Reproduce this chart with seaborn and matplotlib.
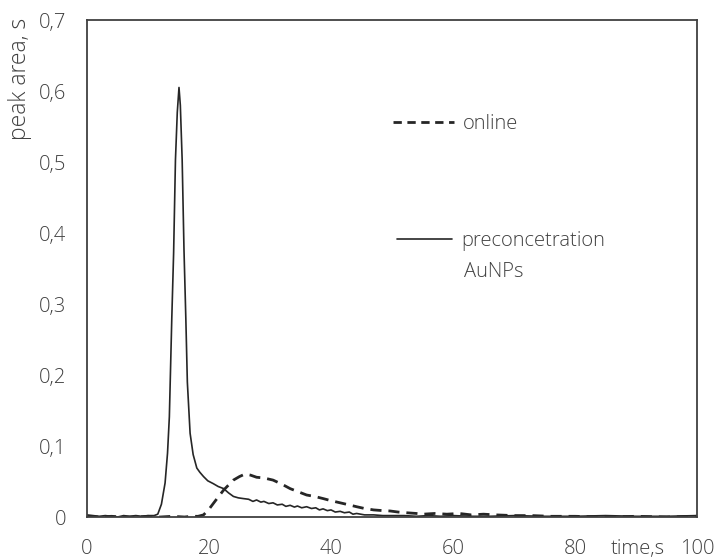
import numpy as np
import pandas as pd
import matplotlib
matplotlib.use("Agg")
import matplotlib.pyplot as plt
import seaborn as sns
from matplotlib.lines import Line2D

sns.set_theme(style="white")
plt.rcParams["font.family"] = ["Open Sans", "DejaVu Sans"]
plt.rcParams["font.weight"] = "light"

# preconcentration on AuNPs (solid)
t_pre = [0, 1, 2, 3, 4, 5, 6, 7, 8, 9, 10, 11, 11.6, 12.2, 12.8, 13.2, 13.5, 13.9,
         14.2, 14.5, 14.8, 15.08, 15.3, 15.6, 15.9, 16.2, 16.45, 16.9, 17.4, 18.0,
         18.5, 19.1, 19.8, 20.7, 21.5, 22.4, 23.2, 24.0, 24.8, 25.6, 26.5, 27.2,
         27.8, 28.5, 29, 29.8, 30.5, 31.2, 32, 32.6, 33.3, 34.0, 34.5, 35.2, 36.0,
         36.8, 37.5, 38.1, 38.7, 39.4, 40, 40.7, 41.5, 42.2, 43, 43.6, 44.2, 45.5,
         47, 48.5, 50, 52, 54, 56, 58, 60, 63, 66, 70, 75, 80, 85, 90, 95, 100]
y_pre = [0.003, 0.002, 0.001, 0.002, 0.001, 0.000, 0.002, 0.001, 0.002, 0.001,
         0.002, 0.002, 0.004, 0.018, 0.048, 0.090, 0.141, 0.280, 0.372, 0.503,
         0.570, 0.605, 0.580, 0.503, 0.376, 0.280, 0.190, 0.118, 0.088, 0.069,
         0.063, 0.057, 0.051, 0.047, 0.043, 0.040, 0.034, 0.029, 0.027, 0.026,
         0.025, 0.022, 0.024, 0.021, 0.022, 0.019, 0.020, 0.017, 0.018, 0.015,
         0.0165, 0.014, 0.0155, 0.013, 0.0145, 0.012, 0.013, 0.010, 0.0115, 0.009,
         0.010, 0.007, 0.008, 0.006, 0.007, 0.004, 0.005, 0.003, 0.003, 0.002,
         0.002, 0.002, 0.001, 0.002, 0.001, 0.002, 0.001, 0.001, 0.002, 0.001,
         0.001, 0.002, 0.001, 0.001, 0.002]

# online (dashed)
t_on = [0, 2, 4, 6, 8, 10, 12, 14, 16, 17, 18.2, 19.1, 20, 20.7, 21.5, 22.4, 23.2,
        24, 25, 25.9, 26.8, 27.8, 29, 30.5, 32, 33.3, 34.5, 36, 37.3, 38.7, 40,
        41.5, 43, 44.2, 45.5, 47, 48.5, 49.7, 51, 52.4, 54, 55.1, 57, 59, 61, 63,
        65, 67, 70, 73, 76, 80, 85, 90, 95, 100]
y_on = [0.001, 0, 0.001, 0, 0, 0.001, 0, 0.001, 0, 0.001, 0.001, 0.003, 0.011,
        0.019, 0.028, 0.038, 0.045, 0.052, 0.057, 0.0605, 0.059, 0.056, 0.055,
        0.052, 0.046, 0.040, 0.036, 0.031, 0.029, 0.026, 0.023, 0.020, 0.017,
        0.0145, 0.012, 0.010, 0.009, 0.0085, 0.007, 0.006, 0.005, 0.004, 0.005,
        0.004, 0.005, 0.003, 0.004, 0.003, 0.002, 0.002, 0.001, 0.001, 0, 0.001,
        0, 0.001]

x_ticks = [0, 20, 40, 60, 80, 100]
y_ticks = [0, 0.1, 0.2, 0.3, 0.4, 0.5, 0.6, 0.7]
y_ticklabels = ["0", "0,1", "0,2", "0,3", "0,4", "0,5", "0,6", "0,7"]

pre = pd.DataFrame({"t": t_pre, "y": y_pre})
onl = pd.DataFrame({"t": t_on, "y": y_on})

fig = plt.figure(figsize=(7.22, 5.59), dpi=100)
ax = fig.add_axes([0.1205, 0.0751, 0.8449, 0.8891])

ink = "#262626"
txt = "#404040"
fs = 14.5
sns.lineplot(data=pre, x="t", y="y", ax=ax, color=ink, lw=1.2, estimator=None)
sns.lineplot(data=onl, x="t", y="y", ax=ax, color=ink, lw=2.0, estimator=None)
ax.lines[-1].set_dashes([4, 2.5])

ax.set_xlim(0, 100)
ax.set_ylim(0, 0.7)
ax.set_xticks(x_ticks)
ax.set_yticks(y_ticks)
ax.set_yticklabels(y_ticklabels)
ax.tick_params(length=0, labelsize=fs, colors=txt)
ax.tick_params(axis="y", pad=15)
ax.tick_params(axis="x", pad=16)
ax.set_xlabel("")
ax.set_ylabel("")
for s in ax.spines.values():
    s.set_color("#404040")
    s.set_linewidth(1.3)

ax.text(-0.11, 1.005, "peak area, s", transform=ax.transAxes, rotation=90,
        ha="center", va="top", fontsize=16.5, color=txt)
ax.annotate("time,s", xy=(90.3, 0), xytext=(0, -16), textcoords="offset points",
            ha="center", va="top", fontsize=fs, color=txt)

kw = dict(frameon=False, fontsize=fs, handletextpad=0.45,
          labelcolor=txt, borderaxespad=0, borderpad=0)
h_on = Line2D([], [], color=ink, lw=2.0, dashes=[3, 2])
h_pre = Line2D([], [], color=ink, lw=1.2)
leg1 = ax.legend([h_on], ["online"], loc="center left", handlelength=3.0,
                 bbox_to_anchor=(0.502, 0.791), **kw)
ax.add_artist(leg1)
ax.legend([h_pre], ["preconcetration"], loc="center left", handlelength=2.75,
          bbox_to_anchor=(0.508, 0.556), **kw)
ax.text(0.618, 0.492, "AuNPs", transform=ax.transAxes, ha="left", va="center",
        fontsize=fs, color=txt)

fig.savefig("out.png", dpi=100)
